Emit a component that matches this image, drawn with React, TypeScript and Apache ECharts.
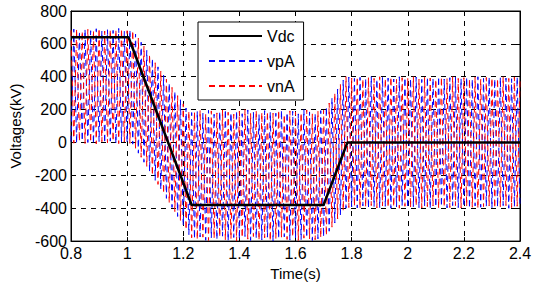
import React, { useEffect, useRef } from "react";
import * as echarts from "echarts";

// Sampling of the arm-voltage traces (one value every half cycle)
const SAMPLE_START = 0.8;
const SAMPLE_STEP = 0.01;

const vpA: number[] = [
  5, 690, -5, 675, 10, 688, 0, 680, -8, 692, 6, 678, -3, 686, 8, 682, -6, 694, 4, 676,
  0, 684, -10, 660, -65, 610, -120, 560, -175, 510, -230, 460, -285, 410, -340, 360, -395, 310, -450, 260,
  -505, 210, -560, 182, -585, 190, -575, 178, -595, 196, -580, 172, -590, 188, -570, 200, -598, 180, -578, 192,
  -588, 175, -572, 198, -596, 184, -582, 170, -592, 194, -576, 186, -600, 178, -584, 196, -574, 182, -594, 190,
  -580, 174, -590, 200, -578, 186, -596, 176, -586, 194, -574, 215, -540, 270, -490, 325, -440, 380, -400, 398,
  -392, 390, -398, 396, -386, 388, -400, 400, -390, 384, -396, 398, -388, 392, -400, 386, -392, 400, -384, 394,
  -398, 388, -390, 398, -396, 384, -386, 396, -400, 390, -392, 400, -388, 386, -398, 394, -384, 398, -396, 388,
  -390, 396, -400, 384, -386, 400, -394, 390, -388, 398, -398, 386, -392, 396, -384, 392, -400, 388, -390, 398,
  -394,
];

const vnA: number[] = [
  682, -4, 690, 8, 676, -6, 688, 2, 680, -9, 694, 5, 678, -2, 686, 9, 684, -7, 692, 3,
  680, -5, 680, -35, 635, -90, 585, -145, 535, -200, 485, -255, 435, -310, 385, -365, 335, -420, 285, -475,
  235, -530, 190, -580, 186, -590, 196, -576, 174, -596, 192, -582, 180, -574, 198, -592, 184, -586, 172, -600,
  190, -578, 200, -588, 176, -572, 194, -594, 182, -580, 188, -598, 178, -584, 196, -576, 170, -590, 192, -574,
  186, -596, 180, -582, 198, -586, 174, -592, 190, -578, 196, -565, 240, -515, 300, -465, 355, -415, 400, -396,
  392, -388, 398, -400, 386, -392, 396, -384, 390, -398, 400, -386, 388, -394, 398, -390, 384, -400, 394, -388,
  390, -396, 400, -384, 386, -398, 396, -390, 392, -386, 384, -400, 398, -392, 388, -396, 400, -384, 390, -398,
  394, -388, 386, -394, 398, -400, 384, -390, 396, -386, 392, -398, 388, -392, 400, -384, 390, -396, 398, -388,
  386,
];

const vdcTime: number[] = [0.8, 1.005, 1.23, 1.7, 1.785, 2.4];
const vdcValue: number[] = [640, 640, -380, -380, 0, 0];

const seriesNames = ["Vdc", "vpA", "vnA"];
const xName = "Time(s)";
const yName = "Voltages(kV)";

const FONT = "'Liberation Sans', Arial, Helvetica, sans-serif";

export default function App() {
  const ref = useRef<HTMLDivElement>(null);

  useEffect(() => {
    if (!ref.current) return;
    const chart = echarts.init(ref.current, undefined, { renderer: "svg" });

    const toPairs = (vals: number[]) =>
      vals.map((v, i) => [+(SAMPLE_START + i * SAMPLE_STEP).toFixed(2), v]);
    const vdcPairs = vdcTime.map((t, i) => [t, vdcValue[i]]);

    const xCommon = {
      type: "value" as const,
      min: 0.8,
      max: 2.4,
      interval: 0.2,
    };
    const yCommon = {
      type: "value" as const,
      min: -600,
      max: 800,
      interval: 200,
    };

    chart.setOption({
      animation: false,
      backgroundColor: "#fff",
      textStyle: { fontFamily: FONT },
      grid: {
        left: 67,
        right: 16,
        top: 11,
        bottom: 43,
        show: true,
        borderColor: "#000",
        borderWidth: 1,
        backgroundColor: "#fff",
      },
      legend: {
        data: seriesNames,
        orient: "vertical",
        left: 198,
        top: 22,
        padding: [4, 9, 4, 10],
        itemWidth: 53,
        itemHeight: 10,
        itemGap: 5,
        borderColor: "#000",
        borderWidth: 1,
        backgroundColor: "#fff",
        itemStyle: { opacity: 0, borderWidth: 0 },
        textStyle: { fontSize: 16, color: "#000", fontFamily: FONT, lineHeight: 20 },
      },
      xAxis: [
        {
          ...xCommon,
          position: "bottom",
          name: xName,
          nameLocation: "middle",
          nameGap: 24,
          nameTextStyle: { fontSize: 15, color: "#000", fontFamily: FONT },
          axisLine: { show: true, onZero: false, lineStyle: { color: "#000", width: 1 } },
          axisTick: { show: true, inside: true, length: 4, lineStyle: { color: "#000" } },
          axisLabel: { color: "#000", fontSize: 16, margin: 4, fontFamily: FONT },
          splitLine: { show: true, lineStyle: { color: "#000", width: 1, type: [5, 5] } },
        },
        {
          ...xCommon,
          position: "top",
          axisLine: { show: true, onZero: false, lineStyle: { color: "#000", width: 1 } },
          axisTick: { show: true, inside: true, length: 4, lineStyle: { color: "#000" } },
          axisLabel: { show: false },
          splitLine: { show: false },
        },
      ],
      yAxis: [
        {
          ...yCommon,
          position: "left",
          name: yName,
          nameLocation: "middle",
          nameGap: 48,
          nameTextStyle: { fontSize: 15, color: "#000", fontFamily: FONT },
          axisLine: { show: true, onZero: false, lineStyle: { color: "#000", width: 1 } },
          axisTick: { show: true, inside: true, length: 4, lineStyle: { color: "#000" } },
          axisLabel: { color: "#000", fontSize: 16, margin: 4, fontFamily: FONT },
          splitLine: { show: true, lineStyle: { color: "#000", width: 1, type: [5, 5] } },
        },
        {
          ...yCommon,
          position: "right",
          axisLine: { show: true, onZero: false, lineStyle: { color: "#000", width: 1 } },
          axisTick: { show: true, inside: true, length: 4, lineStyle: { color: "#000" } },
          axisLabel: { show: false },
          splitLine: { show: false },
        },
      ],
      series: [
        {
          name: "vpA",
          type: "line",
          xAxisIndex: 0,
          yAxisIndex: 0,
          data: toPairs(vpA),
          showSymbol: false,
          symbol: "none",
          color: "#0000ff",
          lineStyle: { color: "#0000ff", width: 1, type: [6, 4] },
          z: 2,
        },
        {
          name: "vnA",
          type: "line",
          xAxisIndex: 0,
          yAxisIndex: 0,
          data: toPairs(vnA),
          showSymbol: false,
          symbol: "none",
          color: "#ff0000",
          lineStyle: { color: "#ff0000", width: 1, type: [6, 4] },
          z: 3,
        },
        {
          name: "Vdc",
          type: "line",
          xAxisIndex: 0,
          yAxisIndex: 0,
          data: vdcPairs,
          showSymbol: false,
          symbol: "none",
          color: "#000",
          lineStyle: { color: "#000", width: 2.5 },
          z: 4,
        },
      ],
    });

    return () => chart.dispose();
  }, []);

  return (
    <div
      ref={ref}
      style={{ position: "fixed", left: 0, top: 0, width: 536, height: 286 }}
    />
  );
}
